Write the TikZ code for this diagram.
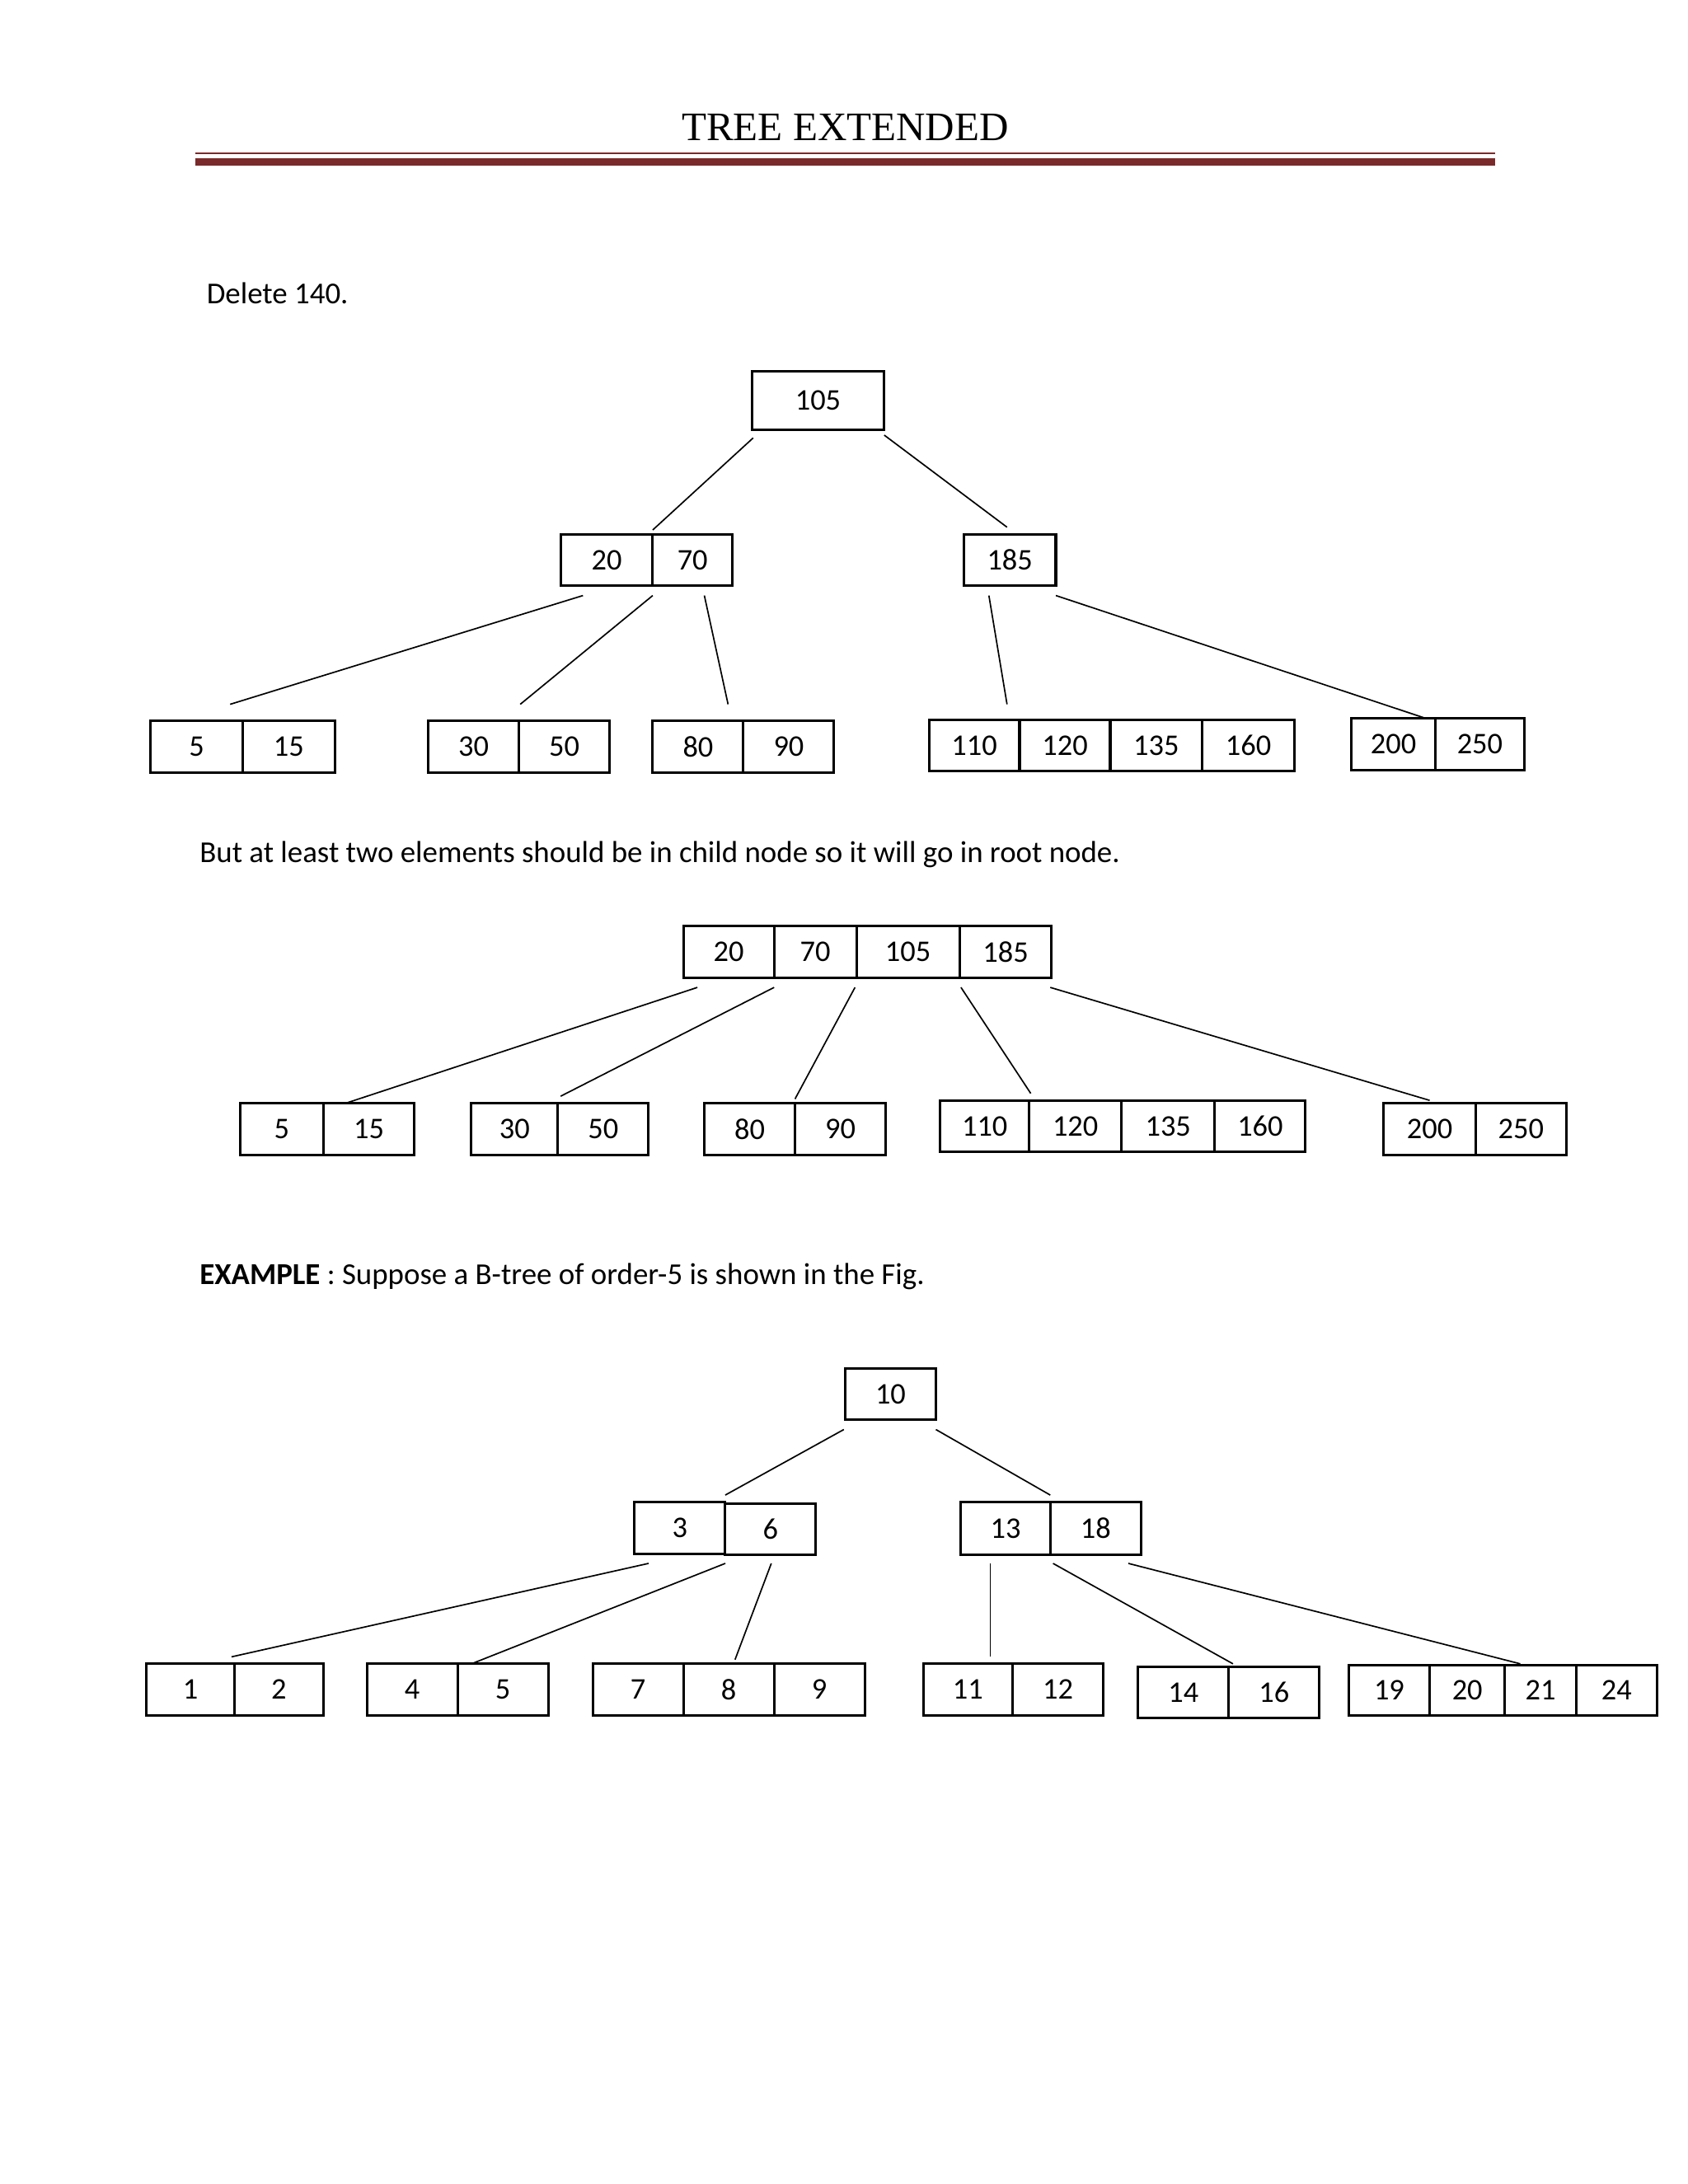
\documentclass[tikz,border=0pt]{standalone}
\usepackage{fontspec}
\setmainfont{Carlito}
\newfontfamily\titlefont{Liberation Serif}
\definecolor{rulered}{HTML}{7A2A2A}
\newcommand{\cell}[6]{\node[cellbox,minimum width={#4pt-#2pt},minimum height={#5pt-#3pt}] (#1) at ({(#2+#4)/2},{(#3+#5)/2}) {\raisebox{-3pt}{#6}};}
\tikzset{cellbox/.style={draw,line width=1.8pt,inner sep=0pt,font=\fontsize{21.5}{26}\selectfont},
 edge/.style={line width=1pt},
 txt/.style={anchor=west,inner sep=0pt,font=\fontsize{21.8}{26}\selectfont}}
\begin{document}
\begin{tikzpicture}[x=1pt,y=-1pt]
\useasboundingbox (0,0) rectangle (1210,1566);
\fill[white] (0,0) rectangle (1210,1566);
\node[font=\titlefont\fontsize{29}{34}\selectfont] (title) at (606,91) {TREE EXTENDED};
\draw[rulered,line width=1pt] (140,110) coordinate (r1) -- (1072,110) coordinate (r2);
\draw[rulered,line width=5pt] (140,116) coordinate (r3) -- (1072,116) coordinate (r4);
\node[txt] (t1) at (148,210) {Delete 140.};
% tree 1
\cell{a}{539}{266}{634}{308}{105}
\cell{b1}{402}{383}{468}{420}{20}\cell{b2}{468}{383}{525}{420}{70}
\cell{c}{691}{383}{757}{420}{185}
\cell{l1}{108}{517}{174}{554}{5}\cell{l2}{174}{517}{240}{554}{15}
\cell{l3}{307}{517}{372}{554}{30}\cell{l4}{372}{517}{437}{554}{50}
\cell{l5}{468}{517}{533}{554}{80}\cell{l6}{533}{517}{598}{554}{90}
\cell{l7}{666}{516}{731}{553}{110}\cell{l8}{731}{516}{796}{553}{120}\cell{l9}{796}{516}{862}{553}{135}\cell{l10}{862}{516}{928}{553}{160}
\cell{l11}{969}{515}{1029}{552}{200}\cell{l12}{1029}{515}{1093}{552}{250}
\draw[edge] (540,314)--(468,380);
\draw[edge] (634,312)--(722,378);
\draw[edge] (418,427)--(165,505);
\draw[edge] (468,427)--(373,505);
\draw[edge] (505,427)--(522,505);
\draw[edge] (709,427)--(722,505);
\draw[edge] (757,427)--(1022,515);
\node[txt] (t2) at (143,613) {But at least two elements should be in child node so it will go in root node.};
% tree 2
\cell{m1}{490}{664}{555}{701}{20}\cell{m2}{555}{664}{614}{701}{70}\cell{m3}{614}{664}{688}{701}{105}\cell{m4}{688}{664}{754}{701}{185}
\cell{n1}{172}{791}{232}{828}{5}\cell{n2}{232}{791}{297}{828}{15}
\cell{n3}{338}{791}{400}{828}{30}\cell{n4}{400}{791}{465}{828}{50}
\cell{n5}{505}{791}{570}{828}{80}\cell{n6}{570}{791}{635}{828}{90}
\cell{n7}{674}{789}{738}{826}{110}\cell{n8}{738}{789}{804}{826}{120}\cell{n9}{804}{789}{871}{826}{135}\cell{n10}{871}{789}{936}{826}{160}
\cell{n11}{992}{791}{1058}{828}{200}\cell{n12}{1058}{791}{1123}{828}{250}
\draw[edge] (500,708)--(248,791);
\draw[edge] (555,708)--(402,786);
\draw[edge] (613,708)--(570,788);
\draw[edge] (689,708)--(739,784);
\draw[edge] (753,708)--(1025,789);
\node[txt] (t3) at (143,915) {\textbf{EXAMPLE} : Suppose a B-tree of order-5 is shown in the Fig.};
% tree 3
\cell{p}{606}{981}{671}{1018}{10}
\cell{q1}{455}{1077}{520}{1114}{3}\cell{q2}{520}{1078}{585}{1115}{6}
\cell{q3}{689}{1077}{753}{1115}{13}\cell{q4}{753}{1077}{818}{1115}{18}
\cell{s1}{105}{1193}{168}{1230}{1}\cell{s2}{168}{1193}{232}{1230}{2}
\cell{s3}{263}{1193}{328}{1230}{4}\cell{s4}{328}{1193}{393}{1230}{5}
\cell{s5}{425}{1193}{490}{1230}{7}\cell{s6}{490}{1193}{555}{1230}{8}\cell{s7}{555}{1193}{620}{1230}{9}
\cell{s8}{662}{1193}{726}{1230}{11}\cell{s9}{726}{1193}{791}{1230}{12}
\cell{s10}{816}{1195}{881}{1232}{14}\cell{s11}{881}{1195}{946}{1232}{16}
\cell{s12}{967}{1194}{1025}{1230}{19}\cell{s13}{1025}{1194}{1079}{1230}{20}\cell{s14}{1079}{1194}{1130}{1230}{21}\cell{s15}{1130}{1194}{1188}{1230}{24}
\draw[edge] (605,1025)--(520,1072);
\draw[edge] (671,1025)--(753,1072);
\draw[edge] (465,1121)--(166,1188);
\draw[edge] (520,1121)--(338,1193);
\draw[edge] (553,1121)--(527,1190);
\draw[edge] (710,1121)--(710,1188);
\draw[edge] (755,1121)--(884,1193);
\draw[edge] (809,1121)--(1090,1193);
\end{tikzpicture}
\end{document}
